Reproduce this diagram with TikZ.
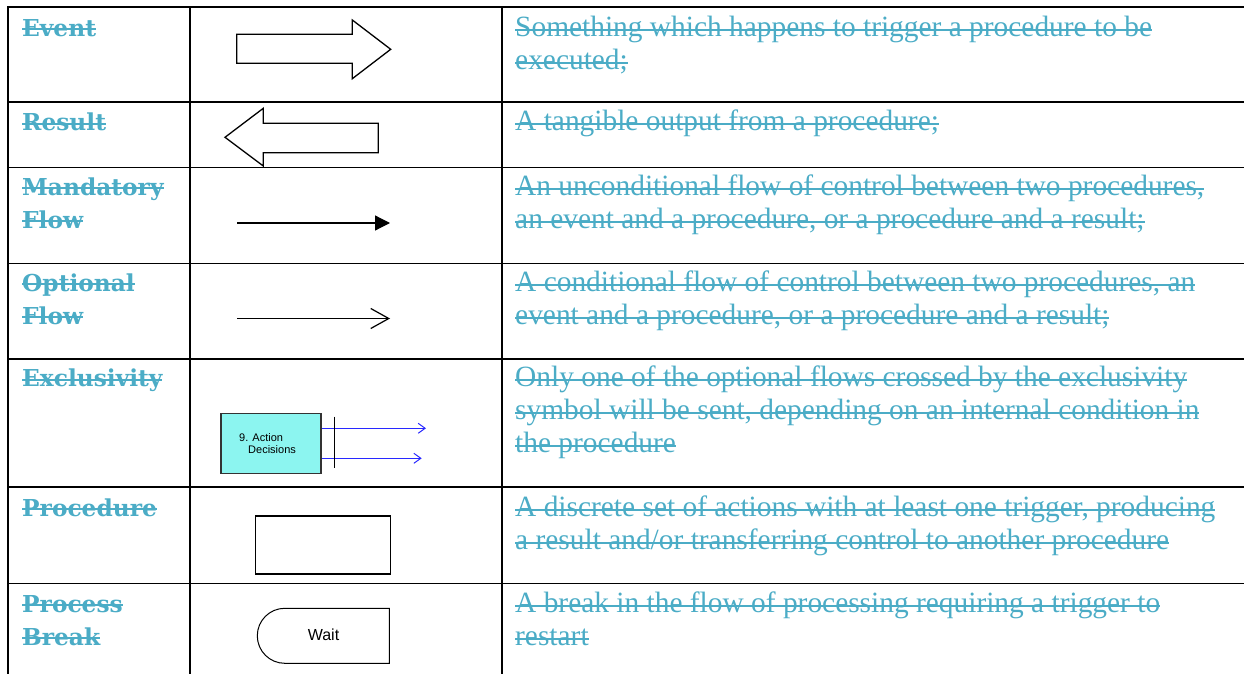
\documentclass[tikz,border=0pt]{standalone}
\usepackage{fontspec}
\usetikzlibrary{arrows.meta}
\newfontfamily\descfamily{Liberation Serif}
\newfontfamily\headfamily{DejaVu Serif}
\newfontfamily\shapefamily{Liberation Sans}
\definecolor{accent}{HTML}{4BACC6}
\definecolor{procfill}{RGB}{140,245,240}
\definecolor{flowblue}{RGB}{40,40,255}
\newsavebox\stkbox
% struck-through text: #1 = height of the bar above the baseline
\newcommand\stk[2][5.5pt]{\sbox\stkbox{#2}\rlap{\usebox\stkbox}\rule[#1]{\wd\stkbox}{2pt}}
\begin{document}
\begin{tikzpicture}[x=1pt,y=-1pt,
  grid/.style={line width=1.8pt, line cap=rect},
  desc/.style={anchor=base west, inner sep=0pt, text=accent,
    font=\descfamily\fontsize{29.4}{33}\selectfont},
  head/.style={anchor=base west, inner sep=0pt, text=accent,
    font=\headfamily\bfseries\fontsize{23.3}{33}\selectfont},
  outline/.style={line width=1.3pt, line join=miter},
  flow/.style={line width=1.2pt},
  blueflow/.style={draw=flowblue, line width=1pt, -{Straight Barb[length=7pt,width=10pt]}},
  smalltext/.style={anchor=base west, inner sep=0pt, font=\shapefamily\fontsize{11}{12}\selectfont}]
\useasboundingbox (0,0) rectangle (1244,674);

% table rules
\foreach \y in {7.3,102.3,167.5,263.5,359,487.3,583.5}
  \draw[grid] (7.7,\y) -- (1250,\y);
\foreach \x in {7.7,190,502}
  \draw[grid] (\x,7.3) -- (\x,680);

% row headings
\newcommand\hd[1]{\stk[6pt]{#1}}
\node[head] (hEvent) at (22,36.5) {\hd{Event}};
\node[head] (hResult) at (22,131) {\hd{Result}};
\node[head] (hMand1) at (22,195) {\hd{Mandatory}};
\node[head] (hMand2) at (22,228) {\hd{Flow}};
\node[head] (hOpt1) at (22,291) {\hd{Optional}};
\node[head] (hOpt2) at (22,324) {\hd{Flow}};
\node[head] (hExcl) at (22,386.5) {\hd{Exclusivity}};
\node[head] (hProc) at (22,516) {\hd{Procedure}};
\node[head] (hBrk1) at (22,612) {\hd{Process}};
\node[head] (hBrk2) at (22,645) {\hd{Break}};

% descriptions
\node[desc] (dEvent1) at (515,36.5) {\stk{Something which happens to trigger a procedure to be}};
\node[desc] (dEvent2) at (515,69.5) {\stk{executed;}};
\node[desc] (dResult) at (515,131) {\stk{A tangible output from a procedure;}};
\node[desc] (dMand1) at (515,195) {\stk{An unconditional flow of control between two procedures,}};
\node[desc] (dMand2) at (515,228) {\stk{an event and a procedure, or a procedure and a result;}};
\node[desc] (dOpt1) at (515,291) {\stk{A conditional flow of control between two procedures, an}};
\node[desc] (dOpt2) at (515,324) {\stk{event and a procedure, or a procedure and a result;}};
\node[desc] (dExcl1) at (515,386.5) {\stk{Only one of the optional flows crossed by the exclusivity}};
\node[desc] (dExcl2) at (515,419.5) {\stk{symbol will be sent, depending on an internal condition in}};
\node[desc] (dExcl3) at (515,452.5) {\stk{the procedure}};
\node[desc] (dProc1) at (515,516) {\stk{A discrete set of actions with at least one trigger, producing}};
\node[desc] (dProc2) at (515,549) {\stk{a result and/or transferring control to another procedure}};
\node[desc] (dBrk1) at (515,612) {\stk{A break in the flow of processing requiring a trigger to}};
\node[desc] (dBrk2) at (515,645) {\stk{restart}};

% event: block arrow pointing right
\draw[outline] (236.7,34.3) -- (352.3,34.3) -- (352.3,20) -- (390.7,49.3)
  -- (352.3,78.7) -- (352.3,63.3) -- (236.7,63.3) -- cycle;

% result: block arrow pointing left
\draw[outline] (225,137.3) -- (263.3,108.3) -- (263.3,123.3) -- (378.3,123.3)
  -- (378.3,152.7) -- (263.3,152.7) -- (263.3,166) -- cycle;

% mandatory flow
\coordinate (mFrom) at (237,223);
\coordinate (mTo) at (390,223);
\draw[flow, -{Triangle[length=15pt,width=15pt]}] (mFrom) -- (mTo);

% optional flow
\coordinate (oFrom) at (237,318.5);
\coordinate (oTo) at (390,318.5);
\draw[flow, -{Straight Barb[length=18pt,width=20pt]}] (oFrom) -- (oTo);

% exclusivity
\node[draw=black!80, fill=procfill, line width=1.2pt, minimum width=100pt,
  minimum height=60pt, inner sep=0pt] (exBox) at (271,443.3) {};
\node[smalltext] (exText1) at (239,441.7) {9. Action};
\node[smalltext] (exText2) at (248,453.3) {Decisions};
\coordinate (exOut1) at (426,428.3);
\coordinate (exOut2) at (421.7,458.3);
\draw[blueflow] (exBox.east |- exOut1) -- (exOut1);
\draw[blueflow] (exBox.east |- exOut2) -- (exOut2);
\coordinate (barTop) at (334.3,416.7);
\coordinate (barBot) at (334.3,467.7);
\draw[line width=1.2pt] (barTop) -- (barBot);

% procedure
\node[draw, line width=1.5pt, minimum width=135pt, minimum height=58pt,
  inner sep=0pt] (proc) at (323.2,545) {};

% process break: rounded left end
\draw[line width=1pt] (389.3,608.3) -- (284.8,608.3)
  arc[start angle=270, end angle=90, radius=27.5] -- (389.3,663.3) -- cycle;
\node[inner sep=0pt, font=\shapefamily\fontsize{16}{19}\selectfont] (wait) at (323.5,635) {Wait};
\end{tikzpicture}
\end{document}
